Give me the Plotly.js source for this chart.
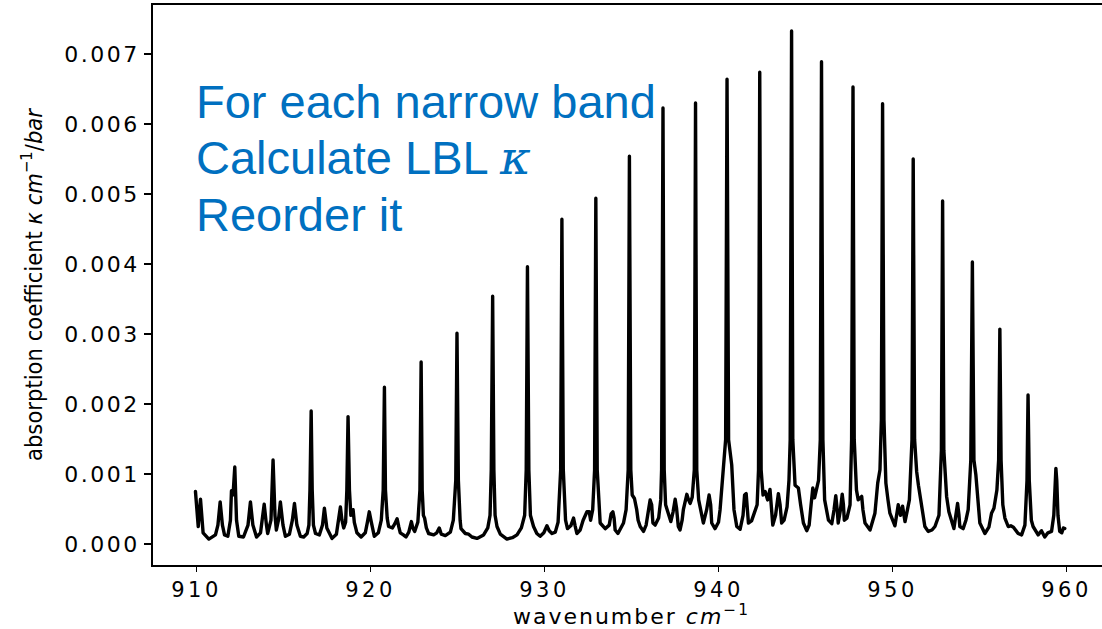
<!DOCTYPE html>
<html>
<head>
<meta charset="utf-8">
<script src="https://cdn.plot.ly/plotly-3.0.1.min.js"></script>
<style>
  html, body { margin: 0; padding: 0; background: #ffffff; overflow: hidden; }
  #spectrum { width: 1112px; height: 629px; }
  .xtick text { letter-spacing: 3.5px; }
  .ytick text { letter-spacing: 2.5px; }
  text.xtitle { letter-spacing: 2px; }
  .scatterlayer path.js-line { stroke-linejoin: round; stroke-linecap: round; }
</style>
</head>
<body>
<div id="spectrum"></div>
<script>
// Line-by-line absorption coefficient of the CO2 P-branch, 910-960 cm^-1
const wavenumber = [
  909.94, 910.10, 910.23, 910.38, 910.71, 911.09, 911.23, 911.36, 911.49, 911.61,
  911.80, 911.95, 912.01, 912.10, 912.20, 912.30, 912.43, 912.70, 912.96, 913.10,
  913.24, 913.45, 913.68, 913.89, 914.02, 914.09, 914.28, 914.40, 914.51, 914.59,
  914.71, 914.82, 914.97, 915.11, 915.34, 915.51, 915.63, 915.77, 915.97, 916.16,
  916.36, 916.46, 916.52, 916.59, 916.65, 916.72, 916.84, 917.06, 917.24, 917.35,
  917.49, 917.79, 918.04, 918.18, 918.27, 918.36, 918.46, 918.57, 918.64, 918.71,
  918.79, 918.87, 919.00, 919.07, 919.22, 919.46, 919.70, 919.82, 919.93, 920.05,
  920.22, 920.45, 920.62, 920.73, 920.80, 920.86, 920.96, 921.04, 921.26, 921.40,
  921.53, 921.63, 921.71, 921.89, 922.04, 922.20, 922.35, 922.43, 922.54, 922.72,
  922.84, 922.91, 922.97, 923.04, 923.11, 923.21, 923.34, 923.63, 923.81, 923.95,
  924.07, 924.30, 924.59, 924.76, 924.90, 924.97, 925.05, 925.15, 925.20, 925.45,
  925.64, 925.83, 926.12, 926.50, 926.74, 926.87, 926.94, 927.02, 927.09, 927.16,
  927.27, 927.46, 927.84, 928.15, 928.42, 928.67, 928.86, 928.95, 929.02, 929.10,
  929.19, 929.37, 929.56, 929.75, 929.96, 930.14, 930.27, 930.43, 930.62, 930.78,
  930.93, 931.00, 931.08, 931.21, 931.32, 931.51, 931.67, 931.76, 931.86, 932.05,
  932.22, 932.44, 932.57, 932.65, 932.77, 932.88, 932.95, 933.03, 933.14, 933.20,
  933.49, 933.72, 933.83, 933.93, 934.00, 934.06, 934.22, 934.41, 934.54, 934.69,
  934.81, 934.88, 934.96, 935.04, 935.17, 935.30, 935.38, 935.50, 935.69, 935.84,
  935.99, 936.07, 936.16, 936.23, 936.36, 936.56, 936.68, 936.73, 936.81, 936.88,
  936.96, 937.12, 937.26, 937.39, 937.51, 937.59, 937.69, 937.79, 937.91, 937.98,
  938.18, 938.28, 938.37, 938.49, 938.61, 938.68, 938.75, 938.86, 938.94, 939.13,
  939.32, 939.46, 939.55, 939.61, 939.80, 940.00, 940.09, 940.24, 940.41, 940.49,
  940.58, 940.76, 940.84, 940.89, 941.05, 941.24, 941.41, 941.50, 941.59, 941.64,
  941.72, 941.90, 942.07, 942.22, 942.30, 942.37, 942.45, 942.56, 942.68, 942.82,
  942.96, 943.05, 943.12, 943.28, 943.44, 943.54, 943.63, 943.77, 943.94, 944.05,
  944.12, 944.20, 944.27, 944.40, 944.59, 944.72, 944.88, 945.07, 945.21, 945.32,
  945.42, 945.52, 945.65, 945.75, 945.85, 945.92, 946.00, 946.10, 946.32, 946.51,
  946.64, 946.74, 946.82, 946.88, 947.01, 947.11, 947.18, 947.23, 947.38, 947.56,
  947.65, 947.73, 947.80, 947.93, 948.03, 948.23, 948.30, 948.42, 948.71, 948.99,
  949.15, 949.28, 949.36, 949.43, 949.51, 949.62, 949.74, 949.85, 950.14, 950.26,
  950.33, 950.46, 950.58, 950.66, 950.72, 950.86, 950.97, 951.12, 951.19, 951.27,
  951.39, 951.49, 951.62, 951.86, 952.05, 952.27, 952.44, 952.67, 952.81, 952.88,
  952.95, 953.11, 953.24, 953.40, 953.53, 953.64, 953.74, 953.82, 953.87, 954.06,
  954.22, 954.35, 954.50, 954.59, 954.68, 954.79, 954.91, 955.02, 955.31, 955.54,
  955.69, 955.83, 956.00, 956.10, 956.17, 956.24, 956.34, 956.46, 956.65, 956.80,
  956.95, 957.09, 957.22, 957.42, 957.61, 957.73, 957.79, 957.86, 957.98, 958.08,
  958.37, 958.56, 958.75, 958.93, 959.14, 959.27, 959.33, 959.39, 959.44, 959.51,
  959.61, 959.73, 959.82, 959.90
];

const kappa = [
  0.00075, 0.00025, 0.00064, 0.00016, 0.00007, 0.00013, 0.00027, 0.00060, 0.00027, 0.00013,
  0.00011, 0.00034, 0.00076, 0.00070, 0.00110, 0.00034, 0.00011, 0.00010, 0.00027, 0.00060,
  0.00027, 0.00010, 0.00016, 0.00057, 0.00027, 0.00015, 0.00034, 0.00120, 0.00041, 0.00020,
  0.00034, 0.00060, 0.00027, 0.00011, 0.00014, 0.00034, 0.00058, 0.00027, 0.00011, 0.00010,
  0.00015, 0.00027, 0.00077, 0.00190, 0.00077, 0.00027, 0.00015, 0.00013, 0.00027, 0.00051,
  0.00023, 0.00008, 0.00014, 0.00034, 0.00053, 0.00034, 0.00023, 0.00031, 0.00077, 0.00182,
  0.00077, 0.00041, 0.00049, 0.00031, 0.00016, 0.00010, 0.00016, 0.00031, 0.00046, 0.00031,
  0.00011, 0.00016, 0.00034, 0.00077, 0.00224, 0.00077, 0.00037, 0.00025, 0.00023, 0.00029,
  0.00036, 0.00024, 0.00016, 0.00013, 0.00010, 0.00017, 0.00032, 0.00023, 0.00018, 0.00031,
  0.00077, 0.00260, 0.00077, 0.00041, 0.00037, 0.00023, 0.00015, 0.00013, 0.00016, 0.00023,
  0.00014, 0.00012, 0.00017, 0.00034, 0.00091, 0.00301, 0.00091, 0.00034, 0.00022, 0.00015,
  0.00014, 0.00010, 0.00008, 0.00013, 0.00023, 0.00041, 0.00106, 0.00354, 0.00106, 0.00041,
  0.00025, 0.00014, 0.00007, 0.00009, 0.00013, 0.00023, 0.00041, 0.00106, 0.00396, 0.00106,
  0.00041, 0.00025, 0.00015, 0.00011, 0.00016, 0.00026, 0.00019, 0.00015, 0.00017, 0.00031,
  0.00106, 0.00464, 0.00106, 0.00034, 0.00022, 0.00026, 0.00037, 0.00026, 0.00015, 0.00020,
  0.00034, 0.00046, 0.00046, 0.00034, 0.00049, 0.00106, 0.00494, 0.00106, 0.00041, 0.00030,
  0.00022, 0.00027, 0.00043, 0.00046, 0.00037, 0.00020, 0.00015, 0.00023, 0.00030, 0.00049,
  0.00106, 0.00554, 0.00106, 0.00070, 0.00065, 0.00049, 0.00034, 0.00025, 0.00018, 0.00027,
  0.00056, 0.00063, 0.00056, 0.00030, 0.00027, 0.00037, 0.00063, 0.00106, 0.00623, 0.00106,
  0.00056, 0.00041, 0.00032, 0.00046, 0.00064, 0.00051, 0.00025, 0.00020, 0.00034, 0.00049,
  0.00071, 0.00063, 0.00058, 0.00067, 0.00106, 0.00630, 0.00106, 0.00063, 0.00053, 0.00030,
  0.00049, 0.00070, 0.00056, 0.00030, 0.00022, 0.00031, 0.00049, 0.00103, 0.00149, 0.00664,
  0.00149, 0.00113, 0.00077, 0.00049, 0.00025, 0.00021, 0.00041, 0.00070, 0.00072, 0.00056,
  0.00030, 0.00033, 0.00046, 0.00056, 0.00106, 0.00674, 0.00106, 0.00070, 0.00075, 0.00063,
  0.00078, 0.00056, 0.00027, 0.00041, 0.00072, 0.00056, 0.00030, 0.00034, 0.00053, 0.00091,
  0.00149, 0.00733, 0.00149, 0.00084, 0.00080, 0.00056, 0.00030, 0.00019, 0.00027, 0.00056,
  0.00080, 0.00066, 0.00080, 0.00091, 0.00149, 0.00689, 0.00149, 0.00063, 0.00034, 0.00029,
  0.00049, 0.00069, 0.00049, 0.00030, 0.00049, 0.00071, 0.00056, 0.00034, 0.00037, 0.00056,
  0.00149, 0.00653, 0.00149, 0.00077, 0.00063, 0.00068, 0.00049, 0.00030, 0.00020, 0.00044,
  0.00087, 0.00106, 0.00177, 0.00629, 0.00177, 0.00087, 0.00063, 0.00044, 0.00026, 0.00041,
  0.00056, 0.00041, 0.00054, 0.00041, 0.00032, 0.00049, 0.00063, 0.00149, 0.00550, 0.00149,
  0.00103, 0.00084, 0.00063, 0.00025, 0.00018, 0.00020, 0.00025, 0.00041, 0.00134, 0.00490,
  0.00134, 0.00068, 0.00046, 0.00030, 0.00022, 0.00041, 0.00058, 0.00041, 0.00025, 0.00022,
  0.00034, 0.00049, 0.00120, 0.00403, 0.00120, 0.00099, 0.00063, 0.00030, 0.00015, 0.00024,
  0.00044, 0.00051, 0.00077, 0.00120, 0.00307, 0.00120, 0.00056, 0.00037, 0.00025, 0.00026,
  0.00024, 0.00020, 0.00015, 0.00013, 0.00027, 0.00091, 0.00213, 0.00091, 0.00034, 0.00025,
  0.00013, 0.00019, 0.00010, 0.00016, 0.00018, 0.00041, 0.00091, 0.00108, 0.00091, 0.00041,
  0.00018, 0.00016, 0.00023, 0.00022
];

const xTickValues = [910, 920, 930, 940, 950, 960];
const yTickValues = [0, 0.001, 0.002, 0.003, 0.004, 0.005, 0.006, 0.007];

const noteLines = [
  'For each narrow band',
  'Calculate LBL <span style="font-family:\'DejaVu Serif\',\'Liberation Serif\',serif;font-style:italic">κ</span>',
  'Reorder it'
];
const noteY = [0.8277, 0.7277, 0.6254];

const trace = {
  x: wavenumber,
  y: kappa,
  type: 'scatter',
  mode: 'lines',
  line: { color: '#000000', width: 3.4, shape: 'linear' },
  hoverinfo: 'x+y'
};

const tickFont = { family: 'DejaVu Sans, sans-serif', size: 22, color: '#000000' };

const layout = {
  width: 1112,
  height: 629,
  margin: { l: 153, r: 2, t: 5, b: 64 },
  paper_bgcolor: '#ffffff',
  plot_bgcolor: '#ffffff',
  showlegend: false,
  xaxis: {
    range: [907.5, 962.5],
    tickmode: 'array',
    tickvals: xTickValues,
    ticktext: xTickValues.map(String),
    ticks: 'outside',
    ticklen: 5,
    tickwidth: 1.5,
    tickcolor: '#000000',
    tickfont: { family: 'DejaVu Sans, sans-serif', size: 21, color: '#000000' },
    showline: true,
    mirror: true,
    linecolor: '#000000',
    linewidth: 1.8,
    showgrid: false,
    zeroline: false,
    title: {
      text: 'wavenumber <i>cm</i><sup>−1</sup>',
      font: { family: 'DejaVu Sans, sans-serif', size: 22, color: '#000000' },
      standoff: 11
    }
  },
  yaxis: {
    range: [-0.0003, 0.0077],
    tickmode: 'array',
    tickvals: yTickValues,
    ticktext: yTickValues.map(v => v.toFixed(3)),
    ticks: 'outside',
    ticklen: 7,
    tickwidth: 1.5,
    tickcolor: '#000000',
    tickfont: tickFont,
    showline: true,
    mirror: true,
    linecolor: '#000000',
    linewidth: 1.8,
    showgrid: false,
    zeroline: false,
    title: {
      text: 'absorption coefficient <i>κ cm</i><sup>−1</sup>/<i>bar</i>',
      font: { family: "'DejaVu Sans Condensed', 'Liberation Sans Narrow', 'DejaVu Sans', sans-serif", size: 23.5, color: '#000000' },
      standoff: 15
    }
  },
  annotations: noteLines.map((txt, i) => ({
    text: txt,
    xref: 'paper',
    yref: 'paper',
    x: 0.0425,
    y: noteY[i],
    xanchor: 'left',
    yanchor: 'middle',
    align: 'left',
    showarrow: false,
    font: { family: "'Liberation Sans', Arial, sans-serif", size: 47, color: '#0070C0' }
  }))
};

Plotly.newPlot('spectrum', [trace], layout, { displayModeBar: false, staticPlot: true });
</script>
</body>
</html>
